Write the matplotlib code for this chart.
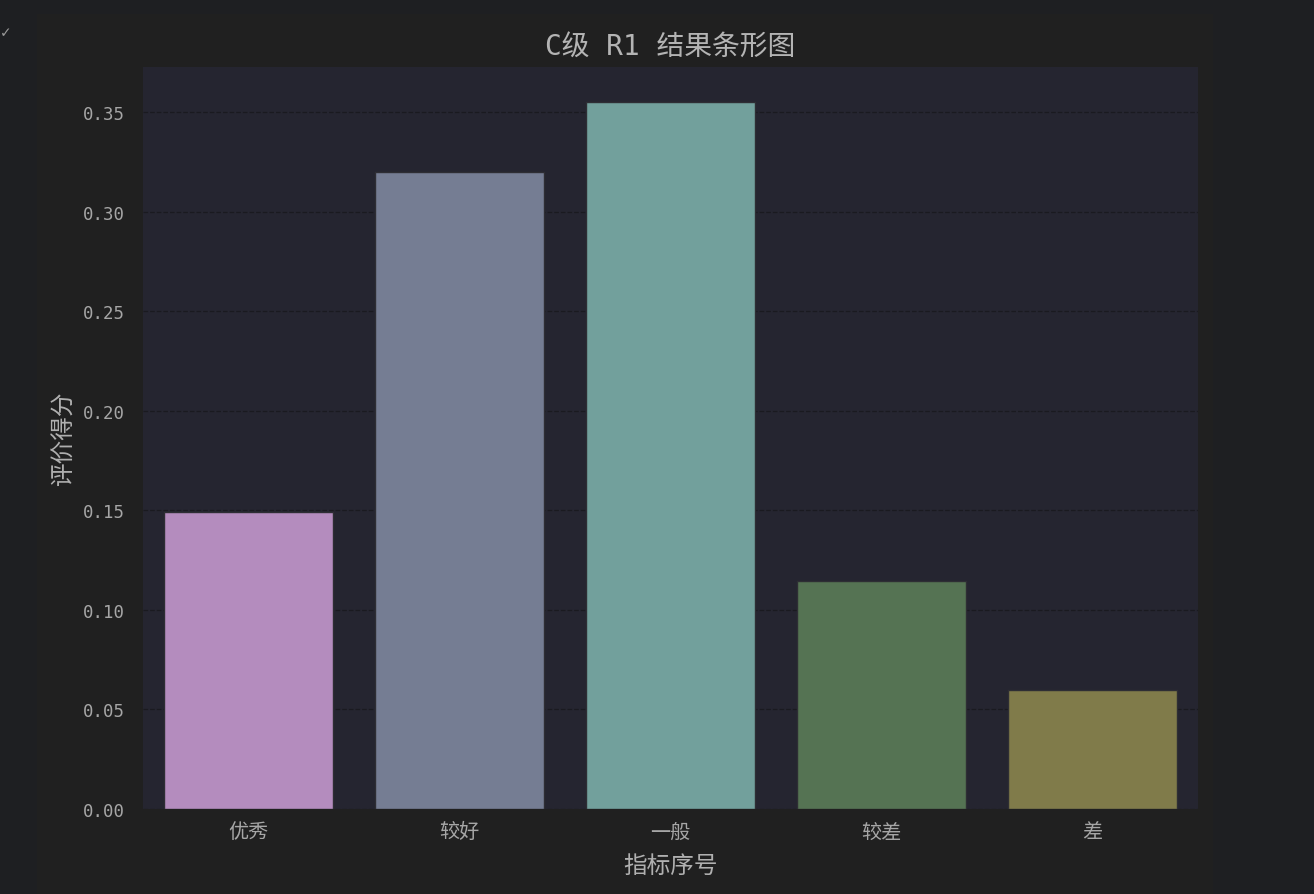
import numpy as np
import matplotlib
matplotlib.use('Agg')
import matplotlib.pyplot as plt
from matplotlib.patches import Rectangle

# data
categories = ['优秀', '较好', '一般', '较差', '差']
scores = [0.149, 0.320, 0.355, 0.1145, 0.0598]
bar_colors = ['#b48cbe', '#757d93', '#72a09c', '#557353', '#807b4a']
yticks = [0.00, 0.05, 0.10, 0.15, 0.20, 0.25, 0.30, 0.35]

plt.rcParams['font.family'] = ['DejaVu Sans Mono', 'Noto Sans CJK SC']
plt.rcParams['axes.unicode_minus'] = False

fig = plt.figure(figsize=(13.14, 8.95), dpi=100, facecolor='#1e1f22')
# inner figure area (screenshot of notebook output)
bg = Rectangle((0.028, 0.0), 0.895, 0.983, transform=fig.transFigure,
               facecolor='#202020', edgecolor='none', zorder=-10)
fig.add_artist(bg)
fig.text(0.0, 0.958, '✓', color='#9a9a9a', fontsize=10, family='DejaVu Sans')

ax = fig.add_axes([0.1088, 0.095, 0.8029, 0.829])
ax.set_facecolor('#252530')

x = np.arange(len(categories))
ax.bar(x, scores, width=0.8, color=bar_colors, edgecolor='#2e2e34', linewidth=1.0, zorder=3)

ax.set_xlim(-0.5, len(categories) - 0.5)
ax.set_ylim(0, max(scores) * 1.05)
ax.set_xticks(x)
ax.set_xticklabels(categories, family=['Noto Sans CJK SC'])
ax.set_yticks(yticks)
ax.set_yticklabels(['%.2f' % v for v in yticks])

ax.yaxis.grid(True, linestyle='--', color='#1a1a20', linewidth=0.9, zorder=0)
ax.set_axisbelow(True)
for s in ax.spines.values():
    s.set_visible(False)

ax.tick_params(axis='x', length=0, pad=9, labelsize=14.5, labelcolor='#a6a6a6')
ax.tick_params(axis='y', length=0, pad=13, labelsize=12.5, labelcolor='#a6a6a6')

ax.set_xlabel('指标序号', fontsize=17, color='#b0b0b0', labelpad=8, family=['Noto Sans CJK SC'])
ax.set_ylabel('评价得分', fontsize=17, color='#b0b0b0', labelpad=5, family=['Noto Sans CJK SC'])
ax.set_title('C级 R1 结果条形图', fontsize=20, color='#b4b4b4', pad=9)

fig.savefig('out.png', dpi=100, facecolor=fig.get_facecolor())
